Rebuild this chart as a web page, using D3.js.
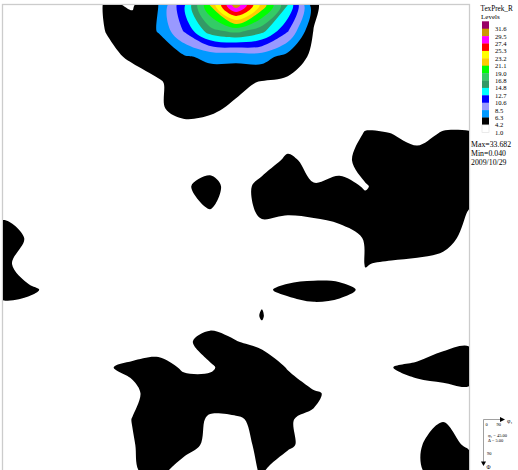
<!DOCTYPE html>
<html>
<head>
<meta charset="utf-8">
<script src="https://cdn.jsdelivr.net/npm/d3@7"></script>
<style>
  html, body { margin: 0; padding: 0; background: #fff; }
  svg { display: block; }
  text { font-family: "Liberation Serif", "DejaVu Serif", serif; fill: #000; }
</style>
</head>
<body>
<svg id="chart" width="518" height="470"></svg>
<script>
// ODF intensity on a 5-degree grid: rows = Phi 0..90 (top to bottom), columns = phi1 0..90.
const odfRows = [
  [1.6, 1.8, 2.0, 2.5, 4.5, 4.0, 6.3, 12.4, 21.2, 31.0, 22.5, 14.8, 4.9, 1.5, 1.2, 1.0, 0.8, 0.7, 0.6],
  [1.5, 1.7, 2.0, 2.5, 4.3, 5.0, 6.4, 10.8, 16.0, 17.5, 15.5, 10.8, 4.1, 2.0, 1.5, 1.2, 1.0, 0.8, 0.7],
  [1.4, 1.6, 1.9, 2.4, 3.5, 4.6, 5.2, 6.0, 6.8, 6.8, 7.2, 5.4, 3.8, 2.0, 1.6, 1.3, 1.1, 0.9, 0.8],
  [1.3, 1.5, 1.8, 2.2, 2.5, 3.0, 4.0, 5.0, 4.9, 4.8, 4.0, 3.8, 3.0, 2.0, 1.6, 1.4, 1.2, 1.0, 0.9],
  [1.2, 1.4, 1.6, 1.9, 2.2, 2.6, 3.9, 5.0, 4.6, 3.8, 3.0, 2.8, 2.6, 2.4, 3.0, 3.0, 2.6, 3.0, 3.0],
  [1.3, 1.5, 1.7, 2.0, 2.3, 2.6, 3.0, 3.0, 3.0, 2.8, 2.7, 3.0, 2.8, 2.7, 4.4, 4.25, 3.6, 4.4, 4.4],
  [1.5, 1.7, 1.9, 2.2, 2.4, 2.6, 2.8, 3.0, 3.1, 2.5, 3.1, 4.6, 3.6, 3.0, 5.5, 5.5, 5.0, 5.5, 5.2],
  [1.7, 1.9, 2.1, 2.3, 2.5, 2.7, 2.9, 3.9, 5.0, 3.1, 4.9, 5.0, 4.3, 5.0, 4.0, 5.5, 5.5, 5.5, 5.0],
  [3.8, 3.0, 2.5, 2.3, 2.4, 2.6, 2.9, 3.5, 4.1, 3.0, 4.6, 4.3, 4.5, 4.8, 5.2, 5.5, 5.5, 5.5, 4.1],
  [5.1, 4.0, 2.5, 2.3, 2.2, 2.3, 2.5, 2.6, 2.7, 2.5, 3.1, 3.5, 3.2, 3.5, 4.3, 5.5, 5.5, 5.0, 3.5],
  [5.0, 2.7, 2.2, 2.0, 1.9, 2.0, 2.2, 2.4, 2.5, 2.6, 2.8, 2.9, 2.9, 3.0, 4.25, 4.0, 3.8, 3.5, 3.0],
  [5.0, 4.6, 3.6, 2.5, 2.2, 2.2, 2.4, 2.6, 2.8, 3.0, 3.9, 4.6, 4.9, 4.7, 3.9, 3.2, 3.0, 2.8, 2.6],
  [3.0, 3.0, 2.8, 2.5, 2.3, 2.3, 2.5, 2.8, 3.1, 3.3, 4.3, 3.0, 3.4, 3.2, 3.0, 2.8, 2.6, 2.5, 2.5],
  [2.8, 2.6, 2.4, 2.3, 2.5, 3.0, 3.3, 3.8, 5.0, 4.25, 3.75, 3.0, 2.5, 2.6, 2.8, 2.6, 2.2, 3.6, 3.9],
  [2.6, 2.5, 2.4, 2.5, 4.05, 4.6, 4.8, 4.0, 4.0, 5.0, 5.2, 4.1, 1.5, 2.5, 3.0, 4.15, 4.8, 5.2, 5.5],
  [2.4, 2.4, 2.5, 2.7, 3.0, 3.75, 5.2, 5.0, 5.0, 5.5, 5.5, 5.0, 4.6, 3.3, 2.8, 3.0, 3.4, 3.5, 3.7],
  [2.3, 2.4, 2.5, 2.7, 3.0, 4.25, 5.0, 5.0, 4.0, 4.0, 4.6, 4.3, 3.9, 3.0, 2.8, 3.0, 3.5, 4.1, 3.5],
  [2.2, 2.3, 2.4, 2.6, 2.9, 4.1, 5.0, 5.0, 3.7, 3.5, 4.6, 4.6, 3.2, 2.8, 2.7, 3.0, 4.0, 5.0, 3.9],
  [2.1, 2.2, 2.3, 2.5, 2.8, 4.0, 4.8, 3.2, 2.8, 3.1, 4.4, 2.7, 2.6, 2.6, 2.7, 3.0, 3.9, 5.2, 5.5]
];

// Contour levels (lower bound of each coloured band) and their fills.
const levelValues = [4.2, 6.3, 8.5, 10.6, 12.7, 14.8, 16.8, 19.0, 21.1, 23.2, 25.3, 27.4, 29.5, 31.6];
const levelColors = ["#000000", "#0099ff", "#9999ff", "#0000ff", "#00ffff", "#339966", "#33cc66",
                     "#00ff00", "#ffcc00", "#ffff00", "#ff0000", "#ff00ff", "#cc9900", "#990066"];

// Legend, top to bottom.
const legendLabels = ["31.6", "29.5", "27.4", "25.3", "23.2", "21.1", "19.0", "16.8",
                      "14.8", "12.7", "10.6", "8.5", "6.3", "4.2", "1.0"];
const legendColors = ["#990066", "#cc9900", "#ff00ff", "#ff0000", "#ffff00", "#ffcc00", "#00ff00",
                      "#33cc66", "#339966", "#00ffff", "#0000ff", "#9999ff", "#0099ff", "#000000", "#ffffff"];
const legendTitle = "TexPrek_R";
const legendSubtitle = "Levels";
const statLines = ["Max=33.682", "Min=0.040", "2009/10/29"];

const axisTicks = ["0", "90"];
const sectionInfo = ["\u03C6\u2082 = 45.00", "\u0394 = 5.00"];

const svg = d3.select("#chart");
const plot = { x0: 3, x1: 469, y0: 5, y1: 471 };

const nx = odfRows[0].length, ny = odfRows.length;
// d3.contours places sample i at grid coordinate i + 0.5
const xs = d3.scaleLinear().domain([0.5, nx - 0.5]).range([plot.x0, plot.x1]);
const ys = d3.scaleLinear().domain([0.5, ny - 0.5]).range([plot.y0, plot.y1]);

const values = odfRows.flat();
const contours = d3.contours().size([nx, ny]).smooth(true).thresholds(levelValues)(values);
const color = d3.scaleOrdinal().domain(levelValues).range(levelColors);

// rounded outline through the contour ring vertices
const ringLine = d3.line()
  .x(p => xs(p[0]))
  .y(p => ys(p[1]))
  .curve(d3.curveCatmullRomClosed.alpha(0.5));

function contourPath(mp) {
  let d = "";
  mp.coordinates.forEach(poly => {
    poly.forEach(ring => {
      const pts = ring.slice(0, ring.length - 1);
      if (pts.length > 2) d += ringLine(pts);
    });
  });
  return d;
}

svg.append("defs").append("clipPath").attr("id", "plotClip")
  .append("rect")
  .attr("x", plot.x0).attr("y", plot.y0)
  .attr("width", plot.x1 - plot.x0).attr("height", plot.y1 - plot.y0);

// frame
svg.append("rect")
  .attr("x", plot.x0 - 0.5).attr("y", plot.y0 - 0.5)
  .attr("width", plot.x1 - plot.x0 + 1).attr("height", plot.y1 - plot.y0 + 1)
  .attr("fill", "#fff").attr("stroke", "#cccccc").attr("stroke-width", 1.3);

svg.append("g").attr("clip-path", "url(#plotClip)")
  .selectAll("path")
  .data(contours)
  .join("path")
  .attr("d", contourPath)
  .attr("fill-rule", "evenodd")
  .attr("fill", d => color(d.value))
  .attr("stroke", "none");

// legend
const lg = svg.append("g");
const swX = 482, swY = 21.3, swW = 7, swH = 7.4;
lg.append("text").attr("x", 480.5).attr("y", 11).attr("font-size", 7.2).text(legendTitle);
lg.append("text").attr("x", 481).attr("y", 18.5).attr("font-size", 7).text(legendSubtitle);

lg.selectAll("rect.sw")
  .data(legendColors)
  .join("rect")
  .attr("class", "sw")
  .attr("x", swX).attr("y", (d, i) => swY + i * swH)
  .attr("width", swW).attr("height", swH + 0.3)
  .attr("fill", d => d)
  .attr("stroke", d => d === "#ffffff" ? "#dddddd" : "none")
  .attr("stroke-width", 0.6);

lg.selectAll("text.lab")
  .data(legendLabels)
  .join("text")
  .attr("class", "lab")
  .attr("x", 495).attr("y", (d, i) => swY + (i + 1) * swH + 2.4)
  .attr("font-size", 6.6)
  .text(d => d);

lg.selectAll("text.stat")
  .data(statLines)
  .join("text")
  .attr("class", "stat")
  .attr("x", 471).attr("y", (d, i) => 146.5 + i * 9)
  .attr("font-size", 7.8)
  .text(d => d);

// orientation key
const key = svg.append("g");
key.append("path").attr("d", "M483.5,419.5H501").attr("stroke", "#888").attr("stroke-width", 0.8);
key.append("path").attr("d", "M483.5,419.5V463").attr("stroke", "#888").attr("stroke-width", 0.8);
key.append("path").attr("d", "M500,417L505,419.5L500,422Z").attr("fill", "#000");
key.append("path").attr("d", "M481,461.5L483.5,466L486,461.5Z").attr("fill", "#000");
key.append("text").attr("x", 485.5).attr("y", 426).attr("font-size", 4.5).text(axisTicks[0]);
key.append("text").attr("x", 496.5).attr("y", 426).attr("font-size", 4.5).text(axisTicks[1]);
key.append("text").attr("x", 507).attr("y", 423).attr("font-size", 6).text("\u03C6\u2081");
key.append("text").attr("x", 488).attr("y", 437).attr("font-size", 4.5).text(sectionInfo[0]);
key.append("text").attr("x", 488).attr("y", 442).attr("font-size", 4.5).text(sectionInfo[1]);
key.append("text").attr("x", 487).attr("y", 455).attr("font-size", 4.5).text(axisTicks[1]);
key.append("text").attr("x", 486.5).attr("y", 469).attr("font-size", 5.5).text("\u03A6");
</script>
</body>
</html>
